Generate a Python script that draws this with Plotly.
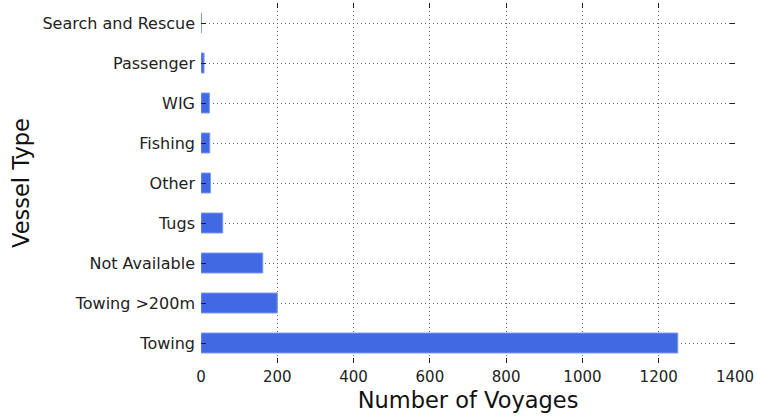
import plotly.graph_objects as go

# --- data ---
vessel_types = [
    "Towing",
    "Towing >200m",
    "Not Available",
    "Tugs",
    "Other",
    "Fishing",
    "WIG",
    "Passenger",
    "Search and Rescue",
]
voyages = [1250, 200, 162, 57, 25, 23, 22, 8, 1]

fig = go.Figure()
fig.add_trace(
    go.Bar(
        x=voyages,
        y=vessel_types,
        orientation="h",
        width=0.5,
        marker=dict(color="#4169E1", line=dict(color="#7f9bee", width=1)),
    )
)

grid = dict(showgrid=True, gridcolor="#666", griddash="1px,3px", gridwidth=1)

fig.update_layout(
    width=757,
    height=418,
    margin=dict(l=201, r=20, t=3, b=55),
    plot_bgcolor="white",
    paper_bgcolor="white",
    showlegend=False,
    font=dict(family="DejaVu Sans"),
    xaxis=dict(
        range=[0, 1400],
        dtick=200,
        zeroline=False,
        showline=False,
        ticks="inside",
        ticklen=5,
        tickcolor="#222",
        mirror="ticks",
        tickfont=dict(family="DejaVu Sans", size=15, color="#222"),
        ticklabelstandoff=3,
        title=dict(text="Number of Voyages", font=dict(size=22.5, color="#111"), standoff=7),
        **grid,
    ),
    yaxis=dict(
        range=[-0.5, 8.5],
        zeroline=False,
        showline=False,
        ticks="inside",
        ticklen=5,
        tickcolor="#222",
        mirror="ticks",
        tickfont=dict(family="DejaVu Sans", size=16, color="#222"),
        ticklabelstandoff=5,
        title=dict(text="Vessel Type", font=dict(size=22.5, color="#111"), standoff=6),
        **grid,
    ),
)

# drop the page's default body margin so the figure fills the window
fig.write_html(
    "out.html",
    config={"displayModeBar": False},
    post_script="document.body.style.margin = '0';",
)
